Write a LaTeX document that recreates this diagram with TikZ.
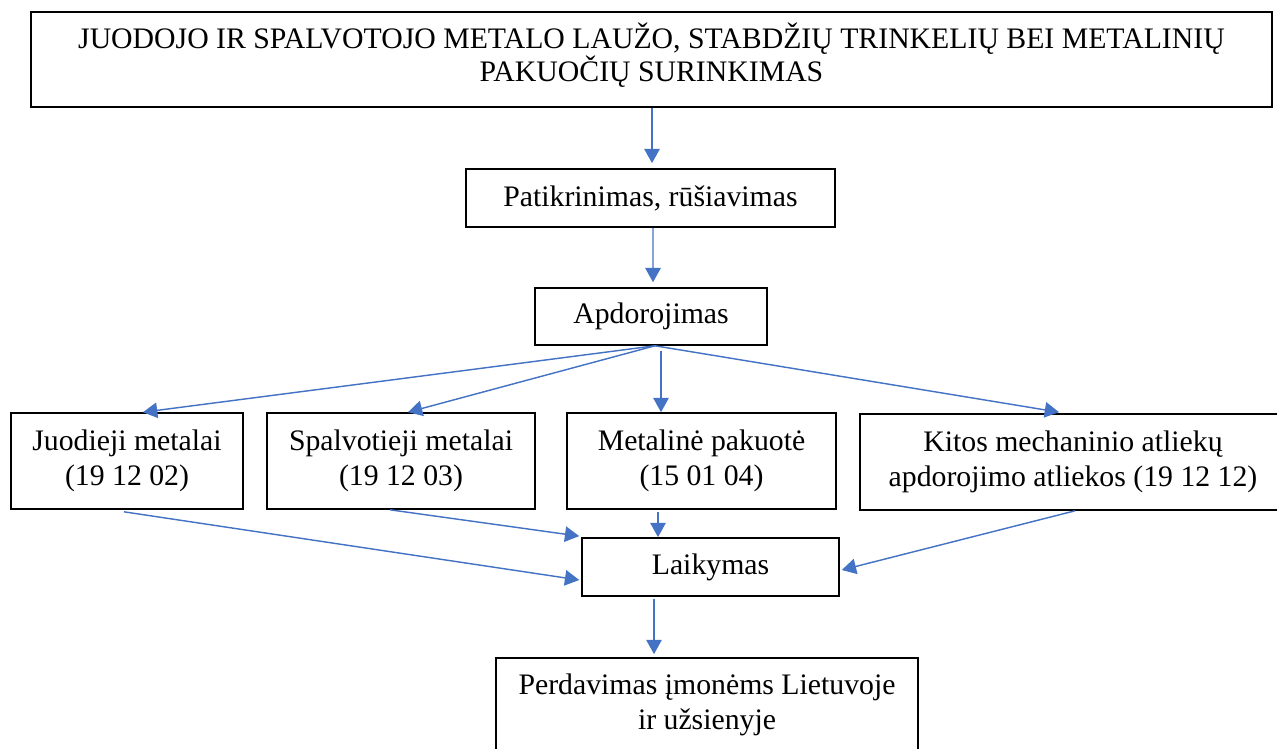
\documentclass[tikz,border=0pt]{standalone}
\usepackage{fontspec}
\setmainfont{Liberation Serif}
\usetikzlibrary{arrows.meta,calc}
\definecolor{arrblue}{RGB}{68,114,196}
\begin{document}
\begin{tikzpicture}[x=0.42pt,y=-0.42pt,
  box/.style={draw=black,line width=0.7pt,inner sep=0pt,align=center,
    font=\fontsize{12.5pt}{14.9pt}\selectfont},
  lbl/.style={inner sep=0pt,align=center,font=\fontsize{12.5pt}{14pt}\selectfont},
  arr/.style={draw=arrblue,line width=0.6pt,-{Triangle[length=6pt,width=6.5pt]}}]
\useasboundingbox (0,0) rectangle (1277,749);
\clip (0,0) rectangle (1277,749);
\fill[white] (0,0) rectangle (1277,749);

\node[box,minimum width=521.2pt,minimum height=39.9pt] (top) at (651.5,59.5) {};
\node[lbl] (toptext) at (651.5,55)
  {JUODOJO IR SPALVOTOJO METALO LAUŽO, STABDŽIŲ TRINKELIŲ BEI METALINIŲ\\PAKUOČIŲ SURINKIMAS};
\node[box,minimum width=155pt,minimum height=24.4pt] (pat) at (650.5,198) {Patikrinimas, rūšiavimas};
\node[box,minimum width=97.4pt,minimum height=23.9pt] (apd) at (651,316.5) {Apdorojimas};
\node[box,minimum width=97.4pt,minimum height=40.3pt] (juo) at (127,461) {Juodieji metalai\\(19 12 02)};
\node[box,minimum width=112.6pt,minimum height=40.3pt] (spa) at (401,461) {Spalvotieji metalai\\(19 12 03)};
\node[box,minimum width=113pt,minimum height=40.3pt] (met) at (701.5,461) {Metalinė pakuotė\\(15 01 04)};
\node[box,minimum width=178.9pt,minimum height=40.3pt] (kit) at (1073,462) {Kitos mechaninio atliekų\\apdorojimo atliekos (19 12 12)};
\node[box,minimum width=107.9pt,minimum height=24.4pt] (lai) at (710.5,567) {Laikymas};
\node[box,minimum width=177.2pt,minimum height=39.5pt] (per) at (707,705) {Perdavimas įmonėms Lietuvoje\\ir užsienyje};

\coordinate (o) at ($(apd.south)+(4,0)$);
\draw[arr] ($(top.south)+(0.5,0)$) -- ($(pat.north)+(1.5,-5)$);
\draw[arr] ($(pat.south)+(2.5,0)$) -- ($(apd.north)+(2,-5)$);
\draw[arr] (o) -- ($(juo.north)+(16,0)$);
\draw[arr] (o) -- ($(spa.north)+(7,0)$);
\draw[arr] ($(apd.south)+(10,5)$) -- ($(met.north)+(-40.5,0)$);
\draw[arr] (o) -- ($(kit.north)+(-14,-1)$);
\draw[arr] ($(juo.south)+(-3,2)$) -- ($(lai.west)+(-2,13)$);
\draw[arr] ($(spa.south)+(-11,0)$) -- ($(lai.north west)+(-2,-1)$);
\draw[arr] ($(met.south)+(-43.5,2)$) -- ($(lai.north)+(-52.5,0)$);
\draw[arr] ($(kit.south)+(2,0)$) -- ($(lai.east)+(2,3)$);
\draw[arr] ($(lai.south)+(-56.5,2)$) -- ($(per.north)+(-53,-3)$);
\end{tikzpicture}
\end{document}
